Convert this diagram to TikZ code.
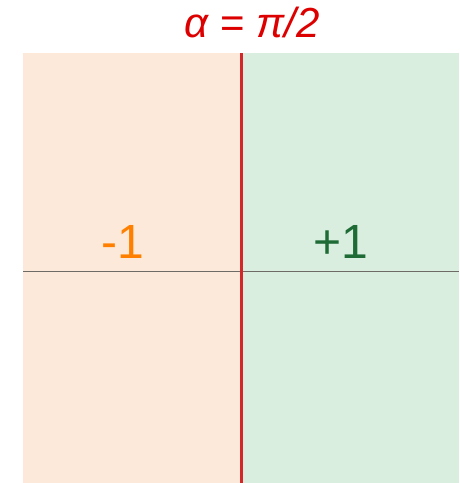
\documentclass[tikz,border=0pt]{standalone}
\usepackage{fontspec}
\setmainfont{Liberation Sans}
\definecolor{lorange}{HTML}{FDE9D9}
\definecolor{lgreen}{HTML}{D9EEDF}
\definecolor{redline}{HTML}{D62728}
\definecolor{otext}{HTML}{FF8000}
\definecolor{gtext}{HTML}{1E6B35}
\definecolor{ttext}{HTML}{DD0000}
\definecolor{axisgray}{HTML}{6E6A66}
\tikzset{
  lbl/.style={inner sep=0pt, anchor=base, font=\fontsize{48}{48}\selectfont},
}
\begin{document}
\begin{tikzpicture}[x=1pt,y=-1pt]
\useasboundingbox (0,0) rectangle (459,483);
\fill[lorange] (23,53) rectangle (241.5,483);
\fill[lgreen] (241.5,53) rectangle (459,483);
\coordinate (hl) at (23,271.5);
\coordinate (hr) at (459,271.5);
\draw[line width=1.2pt, axisgray] (hl) -- (hr);
\coordinate (vt) at (241.5,53);
\coordinate (vb) at (241.5,483);
\draw[line width=3pt, redline] (vt) -- (vb);
\node[lbl, text=otext] (m) at (123,258) {-1};
\node[lbl, text=gtext] (p) at (341,258) {+1};
\node[inner sep=0pt, anchor=base, text=ttext, font=\fontsize{42}{42}\selectfont] (t) at (252,37) {\itshape α\upshape{} = \itshape π/2};
\end{tikzpicture}
\end{document}
